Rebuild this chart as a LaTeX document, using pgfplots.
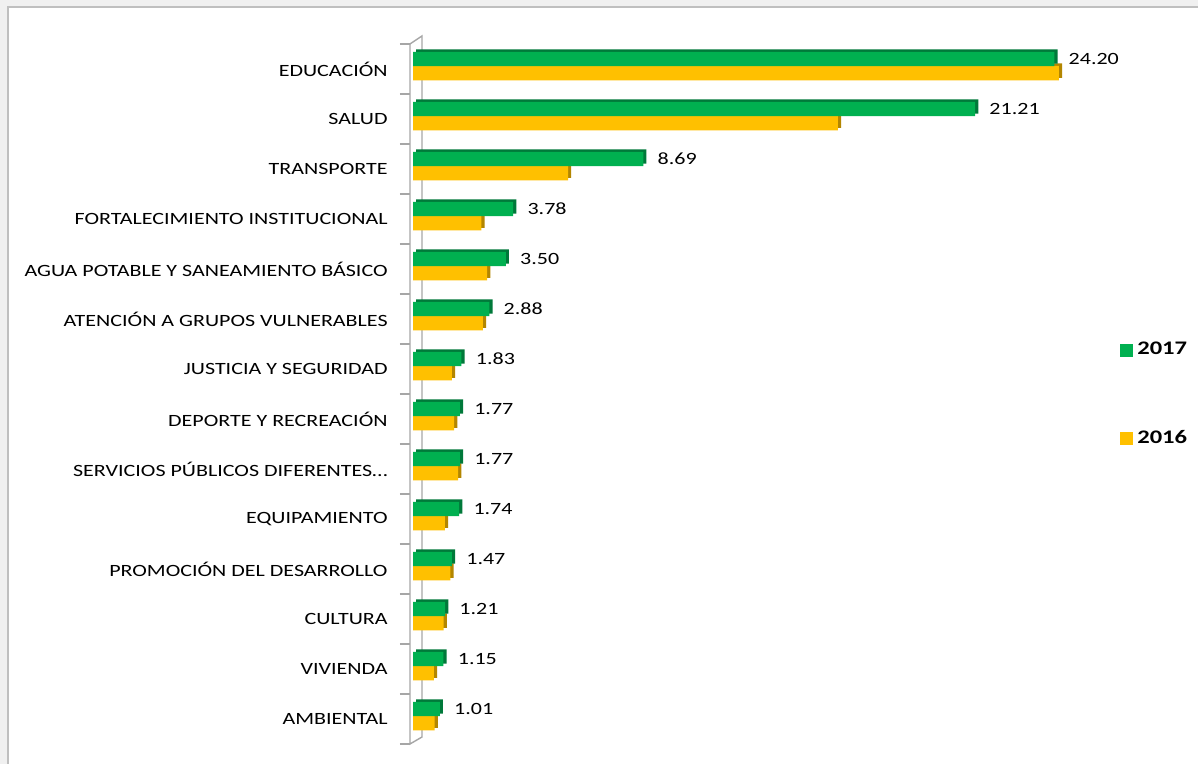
\documentclass[border=0pt]{standalone}
\usepackage{pgfplots}
\pgfplotsset{compat=1.18}
\usepackage{pgfplotstable}
\usepackage{fontspec}
\setmainfont{Carlito}[FakeStretch=1.28]
\definecolor{gface}{HTML}{00B050}
\definecolor{gside}{HTML}{00793A}
\definecolor{yface}{HTML}{FFC000}
\definecolor{yside}{HTML}{B38600}
\definecolor{wall}{HTML}{A6A6A6}
\pgfplotstableread{
pos a b
13 24.20 24.37
12 21.21 16.03
11 8.69 5.85
10 3.78 2.58
9 3.50 2.80
8 2.88 2.64
7 1.83 1.47
6 1.77 1.55
5 1.77 1.70
4 1.74 1.20
3 1.47 1.41
2 1.21 1.16
1 1.15 0.79
0 1.01 0.82
}\data
\begin{document}
\begin{tikzpicture}
\useasboundingbox (0pt,0pt) rectangle (599pt,382pt);
\fill[black!6] (0pt,0pt) rectangle (599pt,382pt);
\fill[white] (4pt,0pt) rectangle (599pt,378.5pt);
\draw[black!25, line width=0.6pt] (4pt,-3pt) -- (4pt,378.5pt) -- (605pt,378.5pt);
\begin{axis}[
 at={(206.5pt,10pt)}, anchor=south west, scale only axis,
 width=344.5pt, height=350pt,
 xmin=0, xmax=26, ymin=-0.5, ymax=13.5,
 xbar, bar width=7.2pt,
 axis x line=none,
 axis y line*=left,
 y axis line style={draw=none},
 ytick={0,...,13},
 yticklabels={AMBIENTAL,VIVIENDA,CULTURA,PROMOCIÓN DEL DESARROLLO,EQUIPAMIENTO,SERVICIOS PÚBLICOS DIFERENTES…,DEPORTE Y RECREACIÓN,JUSTICIA Y SEGURIDAD,ATENCIÓN A GRUPOS VULNERABLES,AGUA POTABLE Y SANEAMIENTO BÁSICO,FORTALECIMIENTO INSTITUCIONAL,TRANSPORTE,SALUD,EDUCACIÓN},
 major tick length=0pt,
 yticklabel style={font=\fontsize{8.6}{10}\selectfont, text=black, inner sep=0pt, anchor=east, xshift=-12.5pt},
 extra y ticks={-0.5,0.5,...,13.5},
 extra y tick labels={},
 extra y tick style={major tick length=5pt, tick align=outside, major tick style={draw=wall, line width=0.7pt, xshift=-1.5pt}},
 clip=false,
 reverse legend,
 legend style={at={(1.026,0.58)}, anchor=north west, draw=none, fill=none, inner sep=0pt, font=\bfseries\fontsize{9.6}{11}\selectfont, row sep=32pt, legend cell align=left},
]
\draw[wall, line width=0.7pt] ([xshift=-1.5pt]axis cs:0,-0.5) -- ([xshift=-1.5pt]axis cs:0,13.5) -- ([xshift=4.5pt,yshift=4pt]axis cs:0,13.5) -- ([xshift=4.5pt,yshift=3.5pt]axis cs:0,-0.5) -- cycle;
\addplot[fill=yside, draw=none, bar shift=-2.1pt, xshift=1.6pt, yshift=1.25pt, forget plot] table[x=b,y=pos]{\data};
\addplot[fill=yface, draw=none, bar shift=-2.1pt, legend image code/.code={\fill[yface] (0pt,-3.25pt) rectangle (6.5pt,3.25pt);}] table[x=b,y=pos]{\data};
\addplot[fill=gside, draw=none, bar shift=5pt, xshift=1.6pt, yshift=1.25pt, forget plot] table[x=a,y=pos]{\data};
\addplot[fill=gface, draw=none, bar shift=5pt, legend image code/.code={\fill[gface] (0pt,-3.25pt) rectangle (6.5pt,3.25pt);},
  nodes near coords={\pgfmathprintnumber[fixed,fixed zerofill,precision=2,assume math mode=true]{\pgfplotspointmeta}},
  nodes near coords style={font=\fontsize{8.6}{10}\selectfont, text=black, anchor=west, inner sep=0pt, xshift=7pt}] table[x=a,y=pos]{\data};
\legend{2016,2017}
\end{axis}
\end{tikzpicture}
\end{document}
